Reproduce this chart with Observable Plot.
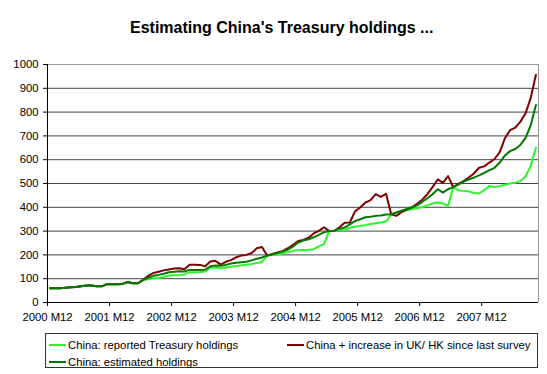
<!DOCTYPE html>
<html>
<head>
<meta charset="utf-8">
<script src="https://cdn.jsdelivr.net/npm/d3@7"></script>
<script src="https://cdn.jsdelivr.net/npm/@observablehq/plot@0.6"></script>
<style>
  body { margin: 0; background: #fff; font-family: "Liberation Sans", Arial, sans-serif; }
  #wrap { position: relative; width: 547px; height: 374px; overflow: hidden; background: #fff; }
  #chart { position: absolute; left: 0; top: 0; }
  #title { position: absolute; left: 130px; top: 20px; font-size: 16px; line-height: 16px; font-weight: bold; white-space: nowrap; color: #000; }
  #legend { position: absolute; left: 45px; top: 333px; width: 493px; height: 35px; box-sizing: border-box; border: 1px solid #333; background: #fff; }
  .entry { position: absolute; font-size: 11.3px; line-height: 12px; white-space: nowrap; color: #000; }
  .swatch { position: absolute; height: 2px; width: 17px; }
</style>
</head>
<body>
<div id="wrap">
  <div id="chart"></div>
  <div id="title">Estimating China's Treasury holdings ...</div>
  <div id="legend"></div>
</div>
<script>
// Tick labels (every 12 months, starting 2000 M12)
const tickLabels = ["2000 M12", "2001 M12", "2002 M12", "2003 M12", "2004 M12", "2005 M12", "2006 M12", "2007 M12"];
const yTicks = [0, 100, 200, 300, 400, 500, 600, 700, 800, 900, 1000];

// Series names
const seriesNames = ["China: reported Treasury holdings", "China + increase in UK/ HK since last survey", "China: estimated holdings"];
const seriesColors = ["#2cf52c", "#800000", "#007a00"];

// Monthly values, 2000 M12 .. 2008 M10 (US$ bn)
const reported = [
  60,60,60,62,64,65,68,71,71,68,68,77,77,77,78,86,81,81,95,
  98,102,103,108,113,114,115,118,127,127,128,130,147,146,144,147,150,153,156,159,162,166,170,197,
  200,203,206,212,217,220,221,222,224,236,245,300,
  301,306,304,314,318,322,325,330,333,336,340,371,
  378,383,388,392,396,400,408,416,420,416,406,485,
  471,469,467,460,458,472,490,485,489,495,500,503,510,530,575,650
];
const ukhk = [
  60,60,60,62,64,65,68,71,71,68,68,77,77,77,78,86,81,81,95,
  112,124,129,135,139,143,144,140,159,159,158,152,172,175,159,171,178,190,197,200,208,228,233,197,
  204,210,216,228,242,258,263,272,290,301,316,300,
  301,316,335,336,383,399,420,430,455,444,457,371,
  364,380,390,400,415,432,455,485,517,503,531,485,
  498,510,525,542,566,572,588,603,632,690,724,735,760,795,860,957
];
const estimated = [
  60,60,60,62,64,65,68,71,71,68,68,77,77,77,78,86,81,81,95,
  104,112,116,121,127,129,131,130,137,137,137,138,152,155,154,158,164,167,169,171,177,184,189,197,
  203,208,214,222,235,252,260,266,274,284,295,300,
  302,310,315,328,342,350,358,360,364,366,370,371,
  378,386,393,400,408,422,438,455,476,462,476,485,
  495,508,517,525,534,545,556,566,588,618,636,645,662,692,745,830
];

const n = reported.length;
const data = d3.range(n).map(i => ({ i, reported: reported[i], ukhk: ukhk[i], estimated: estimated[i] }));
const xTicks = tickLabels.map((_, j) => j * 12);
const xPos = d => d.i + 0.5;

const chart = Plot.plot({
  width: 547,
  height: 374,
  marginLeft: 47,
  marginRight: 9,
  marginTop: 64,
  marginBottom: 72,
  x: { type: "linear", domain: [0, n], axis: null },
  y: { domain: [0, 1000], axis: null },
  style: { fontFamily: "'Liberation Sans', Arial, sans-serif", fontSize: "11.3px", background: "white", color: "black" },
  marks: [
    Plot.ruleY(yTicks.filter(v => v > 0 && v < 1000), { stroke: "#444", strokeWidth: 1 }),
    Plot.ruleY([1000], { stroke: "#999", strokeWidth: 1 }),
    Plot.ruleX([n], { stroke: "#999", strokeWidth: 1 }),
    Plot.line(data, { x: xPos, y: "reported", stroke: seriesColors[0], strokeWidth: 2 }),
    Plot.line(data, { x: xPos, y: "ukhk", stroke: seriesColors[1], strokeWidth: 2 }),
    Plot.line(data, { x: xPos, y: "estimated", stroke: seriesColors[2], strokeWidth: 2 }),
    Plot.ruleX([0], { stroke: "black", strokeWidth: 1 }),
    Plot.ruleY([0], { stroke: "black", strokeWidth: 1 }),
    Plot.axisY({ ticks: yTicks, tickSize: 4, tickPadding: 5, tickFormat: d => String(d), fill: "black" }),
    Plot.axisX({ ticks: xTicks, tickSize: 4, tickPadding: 6.5, tickFormat: d => tickLabels[d / 12], fill: "black" })
  ]
});
document.getElementById("chart").appendChild(chart);

// Legend (two columns, row-major order like the reference)
const legend = document.getElementById("legend");
const slots = [
  { name: seriesNames[0], color: seriesColors[0], left: 3, top: 11 },
  { name: seriesNames[1], color: seriesColors[1], left: 241, top: 11 },
  { name: seriesNames[2], color: seriesColors[2], left: 3, top: 28 }
];
slots.forEach(s => {
  const sw = document.createElement("div");
  sw.className = "swatch";
  sw.style.left = s.left + "px";
  sw.style.top = (s.top - 1) + "px";
  sw.style.background = s.color;
  legend.appendChild(sw);
  const t = document.createElement("div");
  t.className = "entry";
  t.style.left = (s.left + 19) + "px";
  t.style.top = (s.top - 6) + "px";
  t.textContent = s.name;
  legend.appendChild(t);
});
</script>
</body>
</html>
